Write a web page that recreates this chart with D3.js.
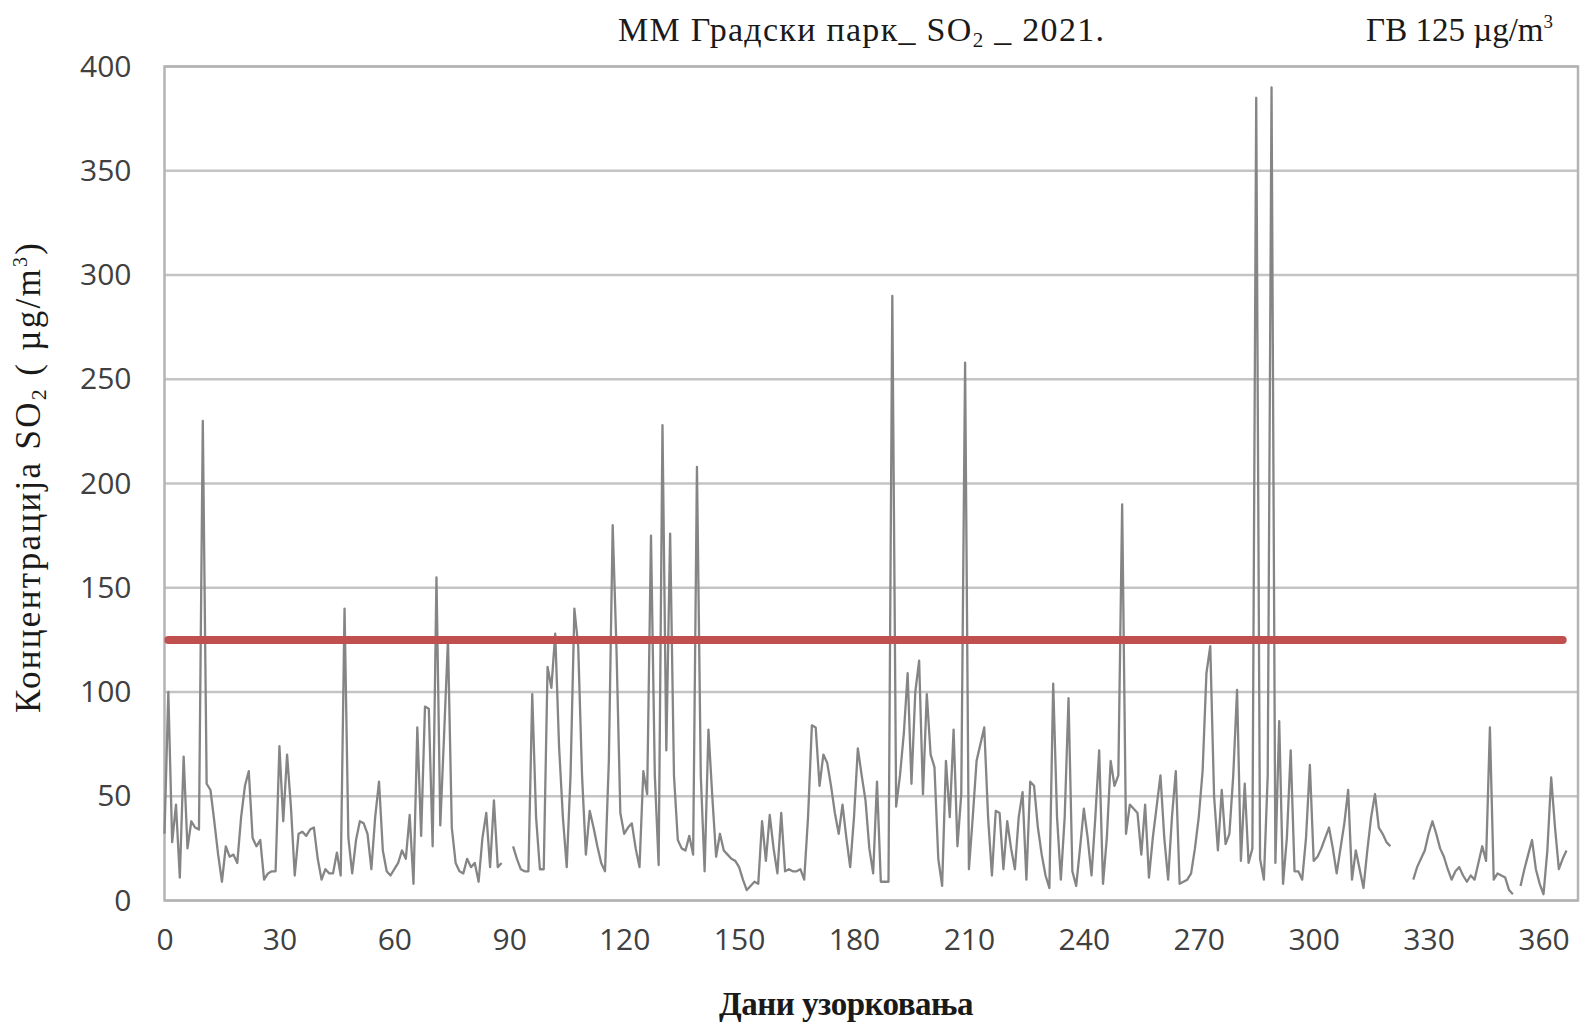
<!DOCTYPE html>
<html>
<head>
<meta charset="utf-8">
<script src="https://cdn.jsdelivr.net/npm/d3@7"></script>
<style>
  body { margin: 0; background: #fff; }
  .tick text { font-family: "Open Sans", "Noto Sans", sans-serif; font-size: 30px; fill: #404040; }
  .serif { font-family: "Liberation Serif", "DejaVu Serif", serif; fill: #1a1a1a; }
</style>
</head>
<body>
<div class="so2-chart"></div>
<script>
// daily SO2 concentration (µg/m3), index = day of sampling, null = no data
var so2Days = [
  32, 100, 28, 46, 11, 69, 25, 38, 35, 34,
  230, 56, 53, 38, 22, 9, 26, 21, 22, 18,
  40, 55, 62, 30, 26, 29, 10, 13, 14, 14,
  74, 38, 70, 45, 12, 32, 33, 31, 34, 35,
  20, 10, 15, 13, 13, 23, 12, 140, 30, 13,
  29, 38, 37, 32, 15, 40, 57, 24, 14, 12,
  15, 18, 24, 20, 41, 8, 83, 31, 93, 92,
  26, 155, 36, 80, 125, 35, 18, 14, 13, 20,
  16, 18, 9, 30, 42, 16, 48, 16, 18, null,
  null, 26, 20, 15, 14, 14, 99, 40, 15, 15,
  112, 102, 128, 74, 40, 16, 60, 140, 122, 60,
  22, 43, 35, 26, 18, 14, 67, 180, 120, 42,
  32, 35, 37, 25, 16, 62, 51, 175, 60, 17,
  228, 72, 176, 60, 29, 25, 24, 31, 22, 208,
  60, 14, 82, 50, 21, 32, 24, 22, 20, 19,
  16, 10, 5, 7, 9, 8, 38, 19, 41, 25,
  13, 42, 14, 15, 14, 14, 15, 10, 40, 84,
  83, 55, 70, 66, 55, 42, 32, 46, 30, 16,
  40, 73, 60, 48, 25, 13, 57, 9, 9, 9,
  290, 45, 60, 80, 109, 56, 100, 115, 51, 99,
  70, 64, 20, 7, 67, 40, 82, 26, 51, 258,
  15, 40, 67, 75, 83, 40, 12, 43, 42, 15,
  38, 25, 15, 40, 52, 10, 57, 55, 35, 22,
  12, 6, 104, 40, 10, 40, 97, 14, 7, 25,
  44, 30, 12, 40, 72, 8, 30, 67, 55, 60,
  190, 32, 46, 44, 42, 22, 46, 11, 30, 45,
  60, 30, 10, 40, 62, 8, 9, 10, 13, 25,
  40, 62, 109, 122, 50, 24, 53, 27, 32, 60,
  101, 19, 56, 18, 25, 385, 20, 10, 60, 390,
  18, 86, 8, 30, 72, 14, 14, 10, 30, 65,
  19, 21, 25, 30, 35, 25, 13, 25, 37, 53,
  10, 24, 15, 6, 24, 40, 51, 35, 32, 28,
  26, null, null, null, null, null, 10, 16, 20, 24,
  32, 38, 32, 25, 21, 15, 10, 14, 16, 12,
  9, 12, 10, 18, 26, 19, 83, 10, 13, 12,
  11, 5, 3, null, 7, 15, 22, 29, 15, 8,
  3, 24, 59, 35, 15, 20, 24
];

var xTicks = [0, 30, 60, 90, 120, 150, 180, 210, 240, 270, 300, 330, 360];
var yTicks = [0, 50, 100, 150, 200, 250, 300, 350, 400];
var limitValue = 125;          // ГВ 125 µg/m3
var limitDays = [1, 365];

var width = 1581;
var height = 1025;

var svg = d3
  .select(".so2-chart")
  .append("svg")
  .attr("width", width)
  .attr("height", height);

var x = d3.scaleLinear().domain([0, 369]).range([164.5, 1578]);
var y = d3.scaleLinear().domain([0, 400]).range([900.5, 66.5]);

// grid lines
svg
  .append("g")
  .attr("class", "grid")
  .selectAll("line")
  .data(yTicks)
  .enter()
  .append("line")
  .attr("x1", x.range()[0])
  .attr("x2", x.range()[1])
  .attr("y1", function (d) { return y(d); })
  .attr("y2", function (d) { return y(d); })
  .style("stroke", "#c4c4c4")
  .style("stroke-width", 2.5);

// plot frame
svg
  .append("rect")
  .attr("x", x.range()[0])
  .attr("y", y.range()[1])
  .attr("width", x.range()[1] - x.range()[0])
  .attr("height", y.range()[0] - y.range()[1])
  .style("fill", "none")
  .style("stroke", "#b4b4b4")
  .style("stroke-width", 2.5);

// axes (labels only)
var yAxis = svg
  .append("g")
  .attr("transform", "translate(" + x.range()[0] + ",0)")
  .call(d3.axisLeft(y).tickValues(yTicks).tickSize(0).tickPadding(33));
yAxis.select(".domain").remove();

var xAxis = svg
  .append("g")
  .attr("transform", "translate(0," + y.range()[0] + ")")
  .call(d3.axisBottom(x).tickValues(xTicks).tickSize(0).tickPadding(28));
xAxis.select(".domain").remove();

// SO2 series
var line = d3
  .line()
  .defined(function (d) { return d != null; })
  .x(function (d, i) { return x(i); })
  .y(function (d) { return y(d); });

svg
  .append("path")
  .datum(so2Days)
  .attr("d", line)
  .style("fill", "none")
  .style("stroke", "#858585")
  .style("stroke-width", 2.3)
  .style("stroke-linejoin", "round");

// limit value line
svg
  .append("line")
  .attr("x1", x(limitDays[0]))
  .attr("x2", x(limitDays[1]))
  .attr("y1", y(limitValue))
  .attr("y2", y(limitValue))
  .style("stroke", "#c0504d")
  .style("stroke-width", 8)
  .style("stroke-linecap", "round");

// texts
var title = svg
  .append("text")
  .attr("class", "serif")
  .attr("x", 618)
  .attr("y", 41)
  .attr("textLength", 486)
  .attr("lengthAdjust", "spacing")
  .style("font-size", "34px");
title.append("tspan").text("ММ Градски  парк_ SO");
title.append("tspan").attr("dy", 6).style("font-size", "21px").text("2");
title.append("tspan").attr("dy", -6).text(" _ 2021.");

var limitLabel = svg
  .append("text")
  .attr("class", "serif")
  .attr("x", 1553)
  .attr("y", 41)
  .attr("text-anchor", "end")
  .style("font-size", "33px");
limitLabel.append("tspan").text("ГВ 125 µg/m");
limitLabel.append("tspan").attr("dy", -13).style("font-size", "19px").text("3");

var yTitle = svg
  .append("text")
  .attr("class", "serif")
  .attr("transform", "translate(40,478) rotate(-90)")
  .attr("text-anchor", "middle")
  .attr("textLength", 470)
  .attr("lengthAdjust", "spacing")
  .style("font-size", "35px");
yTitle.append("tspan").text("Концентрација SO");
yTitle.append("tspan").attr("dy", 6).style("font-size", "22px").text("2");
yTitle.append("tspan").attr("dy", -6).text(" ( µg/m");
yTitle.append("tspan").attr("dy", -13).style("font-size", "20px").text("3");
yTitle.append("tspan").attr("dy", 13).text(")");

svg
  .append("text")
  .attr("class", "serif")
  .attr("x", 846)
  .attr("y", 1015)
  .attr("text-anchor", "middle")
  .style("font-size", "33px")
  .style("font-weight", "bold")
  .style("letter-spacing", "-0.5px")
  .text("Дани узорковања");
</script>
</body>
</html>
